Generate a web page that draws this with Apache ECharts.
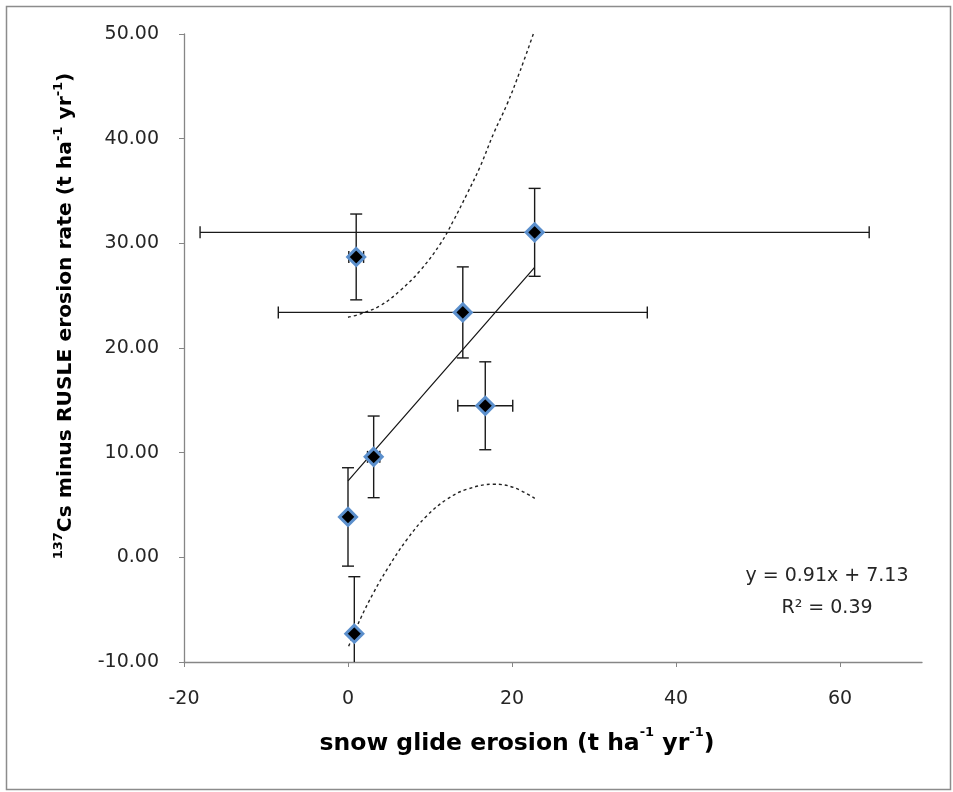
<!DOCTYPE html>
<html>
<head>
<meta charset="utf-8">
<script src="https://cdn.jsdelivr.net/npm/echarts@6/dist/echarts.min.js"></script>
<style>
  html, body { margin: 0; padding: 0; background: #fff; }
  #main { width: 953px; height: 792px; }
</style>
</head>
<body>
<div id="main"></div>
<script>
  // measured points (x = snow glide erosion, y = 137Cs minus RUSLE)
  var xVals = [0.77, 0.0, 3.13, 1.0, 22.76, 14.0, 16.74]
  var yVals = [-7.3, 3.86, 9.6, 28.7, 31.05, 23.4, 14.48]
  var xErr = [0, 0, 0.75, 0.9, 40.8, 22.5, 3.35]
  var yErr = [5.45, 4.7, 3.9, 4.1, 4.2, 4.35, 4.2]

  // linear trend
  var trendX = [0, 22.76]
  var trendY = [7.3, 27.7]

  // dotted confidence curves
  var upperX = [0, 1.5, 3.94, 6.38, 8.8, 11.26, 12.88, 14.5, 16.1, 17.76, 19.4, 21.0, 22.6]
  var upperY = [22.94, 23.25, 24.05, 25.5, 27.4, 29.95, 32.2, 34.7, 37.3, 40.5, 43.3, 46.5, 50.0]
  var lowerX = [0.08, 1.5, 3.1, 4.76, 7.2, 9.6, 12.07, 14.5, 17.76, 20.2, 22.84]
  var lowerY = [-8.5, -5.9, -3.4, -1.15, 1.72, 3.95, 5.55, 6.5, 6.99, 6.67, 5.6]

  var xTicks = [-20, 0, 20, 40, 60]
  var equationText = 'y = 0.91x + 7.13'
  var r2Text = 'R² = 0.39'

  function zip(a, b) {
    return a.map(function (v, i) { return [v, b[i]] })
  }

  var font = 'DejaVu Sans'
  var chart = echarts.init(document.getElementById('main'))

  function titleRich(size, lh) {
    return {
      b: { fontFamily: font, fontWeight: 'bold', fontSize: size, fill: '#000', lineHeight: lh, verticalAlign: 'bottom' },
      s: { fontFamily: font, fontWeight: 'bold', fontSize: 13, fill: '#000', lineHeight: lh, verticalAlign: 'top' }
    }
  }

  var option = {
    animation: false,
    backgroundColor: '#fff',
    grid: {
      left: 184,
      right: 31,
      top: 34,
      bottom: 130,
      containLabel: false,
      outerBoundsMode: 'none'
    },
    xAxis: {
      type: 'value',
      min: -20,
      max: 70,
      interval: 20,
      splitLine: { show: false },
      axisLine: { onZero: false, lineStyle: { color: '#868686', width: 1.3 } },
      axisTick: { length: 5, customValues: xTicks, lineStyle: { color: '#868686' } },
      axisLabel: {
        customValues: xTicks,
        margin: 28,
        color: '#262626',
        fontFamily: font,
        fontSize: 19
      }
    },
    yAxis: {
      type: 'value',
      min: -10,
      max: 50,
      interval: 10,
      splitLine: { show: false },
      axisLine: { show: true, onZero: false, lineStyle: { color: '#868686', width: 1.3 } },
      axisTick: { show: true, length: 5, lineStyle: { color: '#868686' } },
      axisLabel: {
        margin: 25,
        color: '#262626',
        fontFamily: font,
        fontSize: 19,
        formatter: function (v) { return v.toFixed(2) }
      }
    },
    graphic: [
      {
        type: 'rect',
        left: 4, top: 4,
        shape: { width: 944, height: 783 },
        style: { fill: 'none', stroke: '#8c8c8c', lineWidth: 1.5 },
        silent: true
      },
      {
        type: 'text',
        x: 517, y: 741,
        style: {
          text: '{b|snow glide erosion (t ha}{s|-1}{b| yr}{s|-1}{b|)}',
          rich: titleRich(23.5, 30),
          align: 'center', verticalAlign: 'middle'
        }
      },
      {
        type: 'text',
        x: 64, y: 316,
        rotation: Math.PI / 2,
        style: {
          text: '{s|137}{b|Cs minus RUSLE erosion rate (t ha}{s|-1}{b| yr}{s|-1}{b|)}',
          rich: titleRich(20.3, 24),
          align: 'center', verticalAlign: 'middle'
        }
      },
      {
        type: 'text',
        x: 827, y: 576,
        style: { text: equationText, fontFamily: font, fontSize: 19, fill: '#262626', align: 'center', verticalAlign: 'middle' }
      },
      {
        type: 'text',
        x: 827, y: 608,
        style: { text: r2Text, fontFamily: font, fontSize: 19, fill: '#262626', align: 'center', verticalAlign: 'middle' }
      }
    ],
    series: [
      {
        name: 'upper',
        type: 'line',
        data: zip(upperX, upperY),
        smooth: 0.4,
        symbol: 'none',
        lineStyle: { color: '#222', width: 1.4, type: [3, 3] },
        z: 2
      },
      {
        name: 'lower',
        type: 'line',
        data: zip(lowerX, lowerY),
        smooth: 0.4,
        symbol: 'none',
        lineStyle: { color: '#222', width: 1.4, type: [3, 3] },
        z: 2
      },
      {
        name: 'trend',
        type: 'line',
        data: zip(trendX, trendY),
        symbol: 'none',
        lineStyle: { color: '#111', width: 1.2 },
        z: 2
      },
      {
        name: 'errors',
        type: 'custom',
        clip: true,
        data: xVals.map(function (x, i) { return [x, yVals[i], xErr[i], yErr[i]] }),
        renderItem: function (params, api) {
          var x = api.value(0), y = api.value(1), ex = api.value(2), ey = api.value(3)
          var cap = 6
          var style = { stroke: '#1a1a1a', lineWidth: 1.4 }
          var kids = []
          if (ey > 0) {
            var t = api.coord([x, y + ey]), b = api.coord([x, y - ey])
            kids.push({ type: 'line', shape: { x1: t[0], y1: t[1], x2: b[0], y2: b[1] }, style: style })
            kids.push({ type: 'line', shape: { x1: t[0] - cap, y1: t[1], x2: t[0] + cap, y2: t[1] }, style: style })
            kids.push({ type: 'line', shape: { x1: b[0] - cap, y1: b[1], x2: b[0] + cap, y2: b[1] }, style: style })
          }
          if (ex > 0) {
            var l = api.coord([x - ex, y]), r = api.coord([x + ex, y])
            kids.push({ type: 'line', shape: { x1: l[0], y1: l[1], x2: r[0], y2: r[1] }, style: style })
            kids.push({ type: 'line', shape: { x1: l[0], y1: l[1] - cap, x2: l[0], y2: l[1] + cap }, style: style })
            kids.push({ type: 'line', shape: { x1: r[0], y1: r[1] - cap, x2: r[0], y2: r[1] + cap }, style: style })
          }
          return { type: 'group', children: kids }
        },
        z: 3
      },
      {
        name: 'points',
        type: 'scatter',
        data: zip(xVals, yVals),
        symbol: 'diamond',
        symbolSize: 17,
        itemStyle: { color: '#000', borderColor: '#5b8fcc', borderWidth: 3, opacity: 1 },
        z: 4
      }
    ]
  }

  chart.setOption(option)
</script>
</body>
</html>
